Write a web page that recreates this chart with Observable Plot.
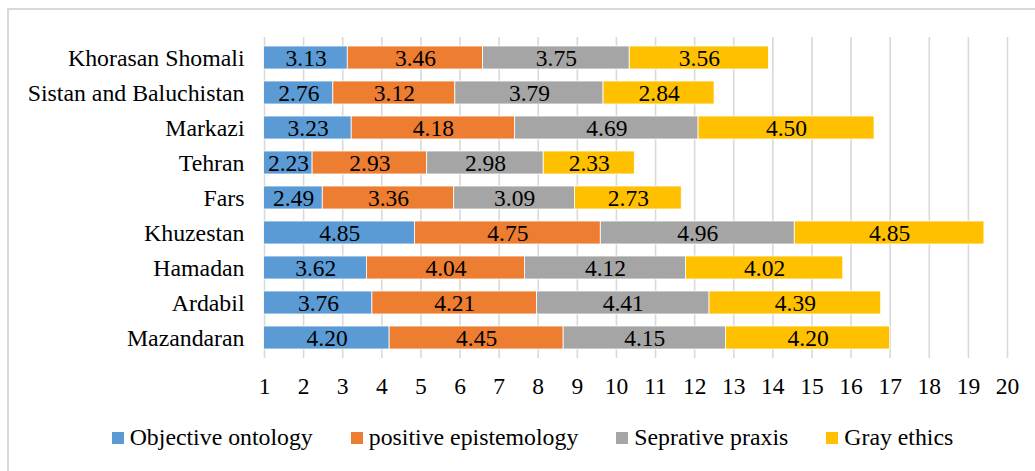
<!DOCTYPE html>
<html><head><meta charset="utf-8">
<script src="https://cdn.jsdelivr.net/npm/d3@7"></script>
<script src="https://cdn.jsdelivr.net/npm/@observablehq/plot@0.6"></script>
<style>
body{margin:0;background:#fff;font-family:'Liberation Serif', serif;}
#wrap{position:relative;width:1035px;height:471px;overflow:hidden;background:#fff}
#frame{position:absolute;left:7px;top:8px;width:1200px;height:700px;border:2px solid #d9d9d9;box-sizing:border-box}
#chart{position:absolute;left:0;top:0}
#chart svg, #chart svg text{font-family:'Liberation Serif', serif !important;}
#legend{position:absolute;top:424px;left:0;width:1035px;display:flex;justify-content:center;align-items:center;gap:38px;font-size:23.8px;color:#000;padding-left:30px;box-sizing:border-box;font-family:'Liberation Serif', serif}
.item{display:flex;align-items:center;gap:6px}
.sw{width:12px;height:12px;display:inline-block}
</style></head>
<body>
<div id="wrap"><div id="frame"></div><div id="chart"></div><div id="legend"></div></div>
<script>
const categories = ["Khorasan Shomali","Sistan and Baluchistan","Markazi","Tehran","Fars","Khuzestan","Hamadan","Ardabil","Mazandaran"];
const seriesNames = ["Objective ontology","positive epistemology","Seprative praxis","Gray ethics"];
const colors = ["#5B9BD5","#ED7D31","#A5A5A5","#FFC000"];
const objective = [3.13,2.76,3.23,2.23,2.49,4.85,3.62,3.76,4.20];
const positive  = [3.46,3.12,4.18,2.93,3.36,4.75,4.04,4.21,4.45];
const seprative = [3.75,3.79,4.69,2.98,3.09,4.96,4.12,4.41,4.15];
const grayEthics = [3.56,2.84,4.50,2.33,2.73,4.85,4.02,4.39,4.20];
const xTicks = d3.range(1, 21);
const xMin = 1, xMax = 20;

const seriesValues = [objective, positive, seprative, grayEthics];
const rows = [];
categories.forEach((c, i) => {
  let acc = 0;
  seriesValues.forEach((vals, s) => {
    const v = vals[i];
    const x1 = acc, x2 = acc + v;
    rows.push({cat: c, series: seriesNames[s], value: v, x1, x2, mid: (Math.max(x1, xMin) + x2) / 2});
    acc = x2;
  });
});

const FONT = "Liberation Serif, serif";
const plot = Plot.plot({
  width: 1035,
  height: 400,
  marginLeft: 264,
  marginRight: 28,
  marginTop: 37,
  marginBottom: 42,
  style: {fontFamily: FONT, fontSize: "23.5px", color: "#000", background: "transparent"},
  x: {domain: [xMin, xMax], ticks: xTicks},
  y: {domain: categories, paddingInner: 0.35, paddingOuter: 0.18},
  color: {domain: seriesNames, range: colors},
  marks: [
    Plot.gridX(xTicks, {stroke: "#d9d9d9", strokeOpacity: 1, strokeWidth: 1.6}),
    Plot.barX(rows, {y: "cat", x1: "x1", x2: "x2", fill: "series", stroke: "white", strokeWidth: 0.8, clip: true}),
    Plot.text(rows, {y: "cat", x: "mid", text: d => d.value.toFixed(2), fill: "black", fontSize: 23.5, fontFamily: FONT}),
    Plot.axisX(xTicks, {tickSize: 0, tickPadding: 19, fontSize: 23.5, fontFamily: FONT, fill: "black", label: null}),
    Plot.axisY({tickSize: 0, tickPadding: 20, fontSize: 23.8, fontFamily: FONT, fill: "black", label: null})
  ]
});
document.getElementById("chart").appendChild(plot);

const legend = document.getElementById("legend");
seriesNames.forEach((n, i) => {
  const it = document.createElement("div");
  it.className = "item";
  it.innerHTML = `<span class="sw" style="background:${colors[i]}"></span><span>${n}</span>`;
  legend.appendChild(it);
});
</script>
</body></html>
